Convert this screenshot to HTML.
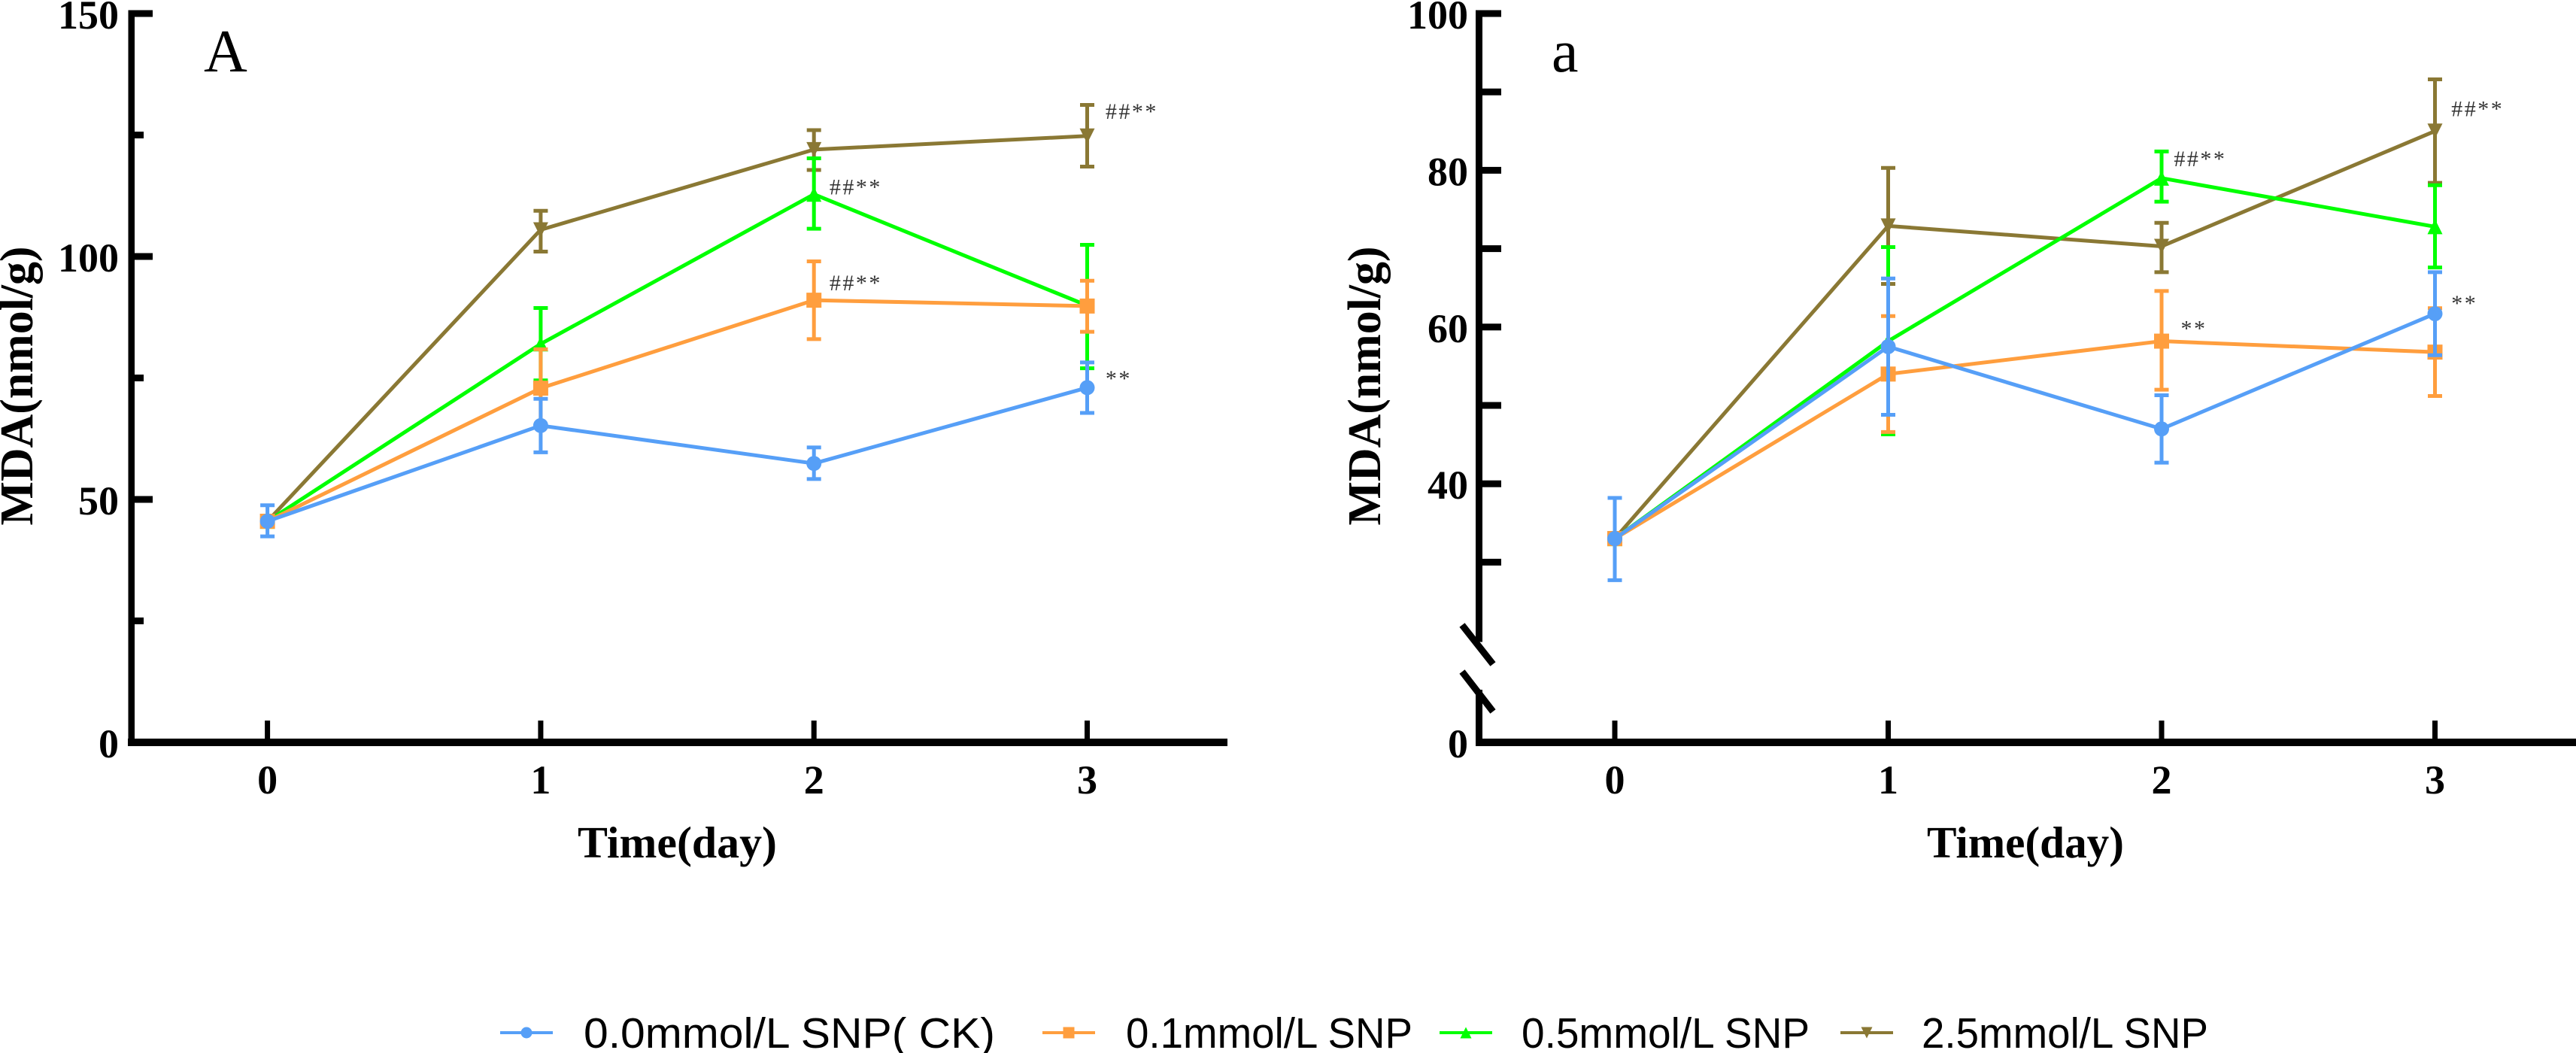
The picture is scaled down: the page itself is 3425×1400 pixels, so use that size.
<!DOCTYPE html>
<html lang="en">
<head>
<meta charset="utf-8">
<title>MDA content over time</title>
<style>
html,body{margin:0;padding:0;background:#fff;width:3425px;height:1400px;overflow:hidden}
svg{display:block}
.serif{font-family:"Liberation Serif",serif}
.sans{font-family:"Liberation Sans","Noto Sans CJK SC",sans-serif}
</style>
</head>
<body>
<svg id="figure" xmlns="http://www.w3.org/2000/svg" width="3425" height="1400" viewBox="0 0 3425 1400"></svg>
<script>
const days = [0, 1, 2, 3];
const xTickLabels = ['0', '1', '2', '3'];
const seriesNames = ['0.0mmol/L SNP( CK)', '0.1mmol/L SNP', '0.5mmol/L SNP', '2.5mmol/L SNP'];

/* Panel A values */
const panelAMeanCk = [45.5, 65.2, 57.4, 73.0];
const panelAUpperCk = [48.8, 70.7, 60.7, 78.2];
const panelALowerCk = [42.4, 59.7, 54.2, 67.8];
const panelAMean01 = [45.5, 72.9, 91.0, 89.8];
const panelAUpper01 = [46.0, 80.9, 99.0, 95.0];
const panelALower01 = [45.0, 64.9, 83.0, 84.5];
const panelAMean05 = [45.5, 82.0, 112.8, 89.9];
const panelAUpper05 = [46.0, 89.4, 120.2, 102.4];
const panelALower05 = [45.0, 74.5, 105.7, 77.0];
const panelAMean25 = [45.5, 105.5, 122.0, 124.8];
const panelAUpper25 = [46.0, 109.4, 126.0, 131.2];
const panelALower25 = [45.0, 101.0, 117.8, 118.5];

/* Panel a values */
const panelBMeanCk = [33.0, 57.5, 47.0, 61.7];
const panelBUpperCk = [38.2, 66.2, 51.3, 67.0];
const panelBLowerCk = [27.7, 48.8, 42.7, 56.4];
const panelBMean01 = [33.0, 54.0, 58.2, 56.8];
const panelBUpper01 = [33.5, 61.4, 64.6, 62.4];
const panelBLower01 = [32.5, 46.6, 52.0, 51.2];
const panelBMean05 = [33.0, 58.2, 79.0, 72.8];
const panelBUpper05 = [33.5, 70.2, 82.4, 78.1];
const panelBLower05 = [32.5, 46.3, 76.0, 67.6];
const panelBMean25 = [33.0, 72.9, 70.3, 85.0];
const panelBUpper25 = [33.5, 80.3, 73.3, 91.6];
const panelBLower25 = [32.5, 65.5, 67.0, 78.4];

/* Axis ticks */
const panelAMajorTicks = [0, 50, 100, 150];
const panelAMinorTicks = [25, 75, 125];
const panelBLabelledTicks = [0, 40, 60, 80, 100];
const panelBPlainTicks = [30, 50, 70, 90];

/* Significance annotations, anchored in data units */
const panelANoteText = ['##**', '##**', '##**', '**'];
const panelANoteDay = [3.067, 2.057, 2.057, 3.067];
const panelANoteValue = [128.3, 112.8, 93.0, 73.4];
const panelBNoteText = ['##**', '##**', '**', '**'];
const panelBNoteDay = [3.06, 2.045, 2.07, 3.06];
const panelBNoteValue = [86.9, 80.5, 58.9, 62.1];

const NS = 'http://www.w3.org/2000/svg';
const figure = document.getElementById('figure');
const colors = ['#569ff7', '#ff9e3e', '#00ff00', '#8a7834'];
const seriesKeys = ['ck', 'snp-0-1', 'snp-0-5', 'snp-2-5'];
const shapes = ['circle', 'square', 'up', 'down'];

function xA(d) { return 355.6 + d * 363.3; }
function yA(v) { return 987 - v * 6.46; }
function xB(d) { return 2147 + d * 363.5; }
function yB(v) { return v >= 20 ? 18 + (100 - v) * 10.42 : 987 - v * 6; }

function el(tag, attrs, parent, text) {
  const node = document.createElementNS(NS, tag);
  for (const k in attrs) node.setAttribute(k, attrs[k]);
  if (text !== undefined) node.textContent = text;
  parent.appendChild(node);
  return node;
}

function marker(shape, x, y, size, color, parent) {
  const h = size / 2;
  if (shape === 'circle') return el('circle', { cx: x, cy: y, r: h, fill: color }, parent);
  if (shape === 'square') return el('rect', { x: x - h, y: y - h, width: size, height: size, fill: color }, parent);
  if (shape === 'up') return el('polygon', { points: `${x},${y - h} ${x + h},${y + h} ${x - h},${y + h}`, fill: color }, parent);
  return el('polygon', { points: `${x - h},${y - h} ${x + h},${y - h} ${x},${y + h}`, fill: color }, parent);
}

function drawSeries(panel, index, mean, upper, lower, xf, yf, parent) {
  const group = el('g', {}, parent);
  
  
  const color = colors[index];
  days.forEach((d, i) => {
    const x = xf(d);
    const err = el('path', {
      d: `M${x},${yf(upper[i])}V${yf(lower[i])}M${x - 9.5},${yf(upper[i])}H${x + 9.5}M${x - 9.5},${yf(lower[i])}H${x + 9.5}`,
      fill: 'none', stroke: color, 'stroke-width': 5
    }, group);
    
    
  });
  const line = el('polyline', {
    points: days.map((d, i) => xf(d) + ',' + yf(mean[i])).join(' '),
    fill: 'none', stroke: color, 'stroke-width': 5, 'stroke-linejoin': 'round'
  }, group);
  
  
  days.forEach((d, i) => {
    const m = marker(shapes[index], xf(d), yf(mean[i]), 20, color, group);
    
    
  });
}

function serifText(str, x, y, size, weight, anchor, parent, color) {
  return el('text', {
    x: x, y: y, 'font-size': size, 'font-weight': weight, 'text-anchor': anchor,
    fill: color || '#000', class: 'serif'
  }, parent, str);
}

function drawXAxis(panel, xf, left, right, parent) {
  const axis = el('rect', { x: left, y: 982, width: right - left, height: 10, fill: '#000' }, parent);
  
  
  days.forEach((d, i) => {
    const t = el('rect', { x: xf(d) - 3.5, y: 958, width: 7, height: 26, fill: '#000' }, parent);
    
    
    const label = serifText(xTickLabels[i], xf(d), 1055, 54, 'bold', 'middle', parent);
    
    
  });
}

function yTick(yf, v, left, right, parent) {
  const t = el('rect', { x: left, y: yf(v) - 4.5, width: right - left, height: 9, fill: '#000' }, parent);
  
  
}

function yLabel(yf, v, x, parent) {
  const label = serifText(String(v), x, yf(v) + 20, 54, 'bold', 'end', parent);
  
  
}

function titles(baselineX, timeX, timeLen, parent) {
  const yTitle = el('text', {
    x: 0, y: 0, 'font-size': 62, 'font-weight': 'bold', 'text-anchor': 'middle',
    class: 'serif', textLength: 371, lengthAdjust: 'spacingAndGlyphs',
    transform: `translate(${baselineX},513) rotate(-90)`
  }, parent, 'MDA(nmol/g)');
  
  
  const xTitle = el('text', {
    x: timeX, y: 1140, 'font-size': 59, 'font-weight': 'bold',
    class: 'serif', textLength: timeLen, lengthAdjust: 'spacingAndGlyphs'
  }, parent, 'Time(day)');
  
  
}

function notes(texts, noteDays, values, xf, yf, parent) {
  texts.forEach((str, i) => {
    const n = serifText(str, xf(noteDays[i]), yf(values[i]), 30, 'normal', 'start', parent, '#333');
    n.setAttribute('letter-spacing', '2.5');
    
    
  });
}

/* ---------- Panel A ---------- */
const panelA = el('g', {}, figure);



const yAxisA = el('rect', { x: 170.5, y: 13.5, width: 8.5, height: 970, fill: '#000' }, panelA);


panelAMajorTicks.forEach(v => {
  if (v !== 0) yTick(yA, v, 175, 203, panelA);
  yLabel(yA, v, 158, panelA);
});
panelAMinorTicks.forEach(v => yTick(yA, v, 175, 191, panelA));
drawXAxis('panel-A', xA, 170, 1632, panelA);
titles(43, 768, 265, panelA);

const letterA = serifText('A', 271, 95, 80, 'normal', 'start', panelA);



drawSeries('panel-A', 3, panelAMean25, panelAUpper25, panelALower25, xA, yA, panelA);
drawSeries('panel-A', 2, panelAMean05, panelAUpper05, panelALower05, xA, yA, panelA);
drawSeries('panel-A', 1, panelAMean01, panelAUpper01, panelALower01, xA, yA, panelA);
drawSeries('panel-A', 0, panelAMeanCk, panelAUpperCk, panelALowerCk, xA, yA, panelA);
notes(panelANoteText, panelANoteDay, panelANoteValue, xA, yA, panelA);

/* ---------- Panel a ---------- */
const panelB = el('g', {}, figure);



const yAxisTop = el('rect', { x: 1962, y: 13.5, width: 9, height: 840, fill: '#000' }, panelB);


const yAxisBottom = el('rect', { x: 1962, y: 917, width: 9, height: 67, fill: '#000' }, panelB);


const breakTop = el('line', { x1: 1944, y1: 831, x2: 1985, y2: 883, stroke: '#000', 'stroke-width': 9 }, panelB);


const breakBottom = el('line', { x1: 1944, y1: 893, x2: 1985, y2: 946, stroke: '#000', 'stroke-width': 9 }, panelB);



panelBLabelledTicks.forEach(v => {
  if (v !== 0) yTick(yB, v, 1966, 1996, panelB);
  yLabel(yB, v, 1952, panelB);
});
panelBPlainTicks.forEach(v => yTick(yB, v, 1966, 1996, panelB));
drawXAxis('panel-a', xB, 1962, 3425, panelB);
titles(1835, 2562, 262, panelB);

const letterB = serifText('a', 2063, 95, 80, 'normal', 'start', panelB);



drawSeries('panel-a', 3, panelBMean25, panelBUpper25, panelBLower25, xB, yB, panelB);
drawSeries('panel-a', 2, panelBMean05, panelBUpper05, panelBLower05, xB, yB, panelB);
drawSeries('panel-a', 1, panelBMean01, panelBUpper01, panelBLower01, xB, yB, panelB);
drawSeries('panel-a', 0, panelBMeanCk, panelBUpperCk, panelBLowerCk, xB, yB, panelB);
notes(panelBNoteText, panelBNoteDay, panelBNoteValue, xB, yB, panelB);

/* ---------- Legend ---------- */
const legend = el('g', {}, figure);


const legendLineStart = [665, 1386, 1914, 2447];
const legendTextStart = [776, 1497, 2023, 2555];
const legendTextLength = [547, 381, 383, 381];
seriesNames.forEach((name, i) => {
  const entry = el('g', {}, legend);
  
  
  const sample = el('line', {
    x1: legendLineStart[i], y1: 1373, x2: legendLineStart[i] + 70, y2: 1373,
    stroke: colors[i], 'stroke-width': 4
  }, entry);
  
  
  const dot = marker(shapes[i], legendLineStart[i] + 35, 1373, 15, colors[i], entry);
  
  
  const label = el('text', {
    x: legendTextStart[i], y: 1393, 'font-size': 57, fill: '#000', class: 'sans',
    textLength: legendTextLength[i], lengthAdjust: 'spacingAndGlyphs'
  }, entry, name);
  
  
});
</script>
</body>
</html>
